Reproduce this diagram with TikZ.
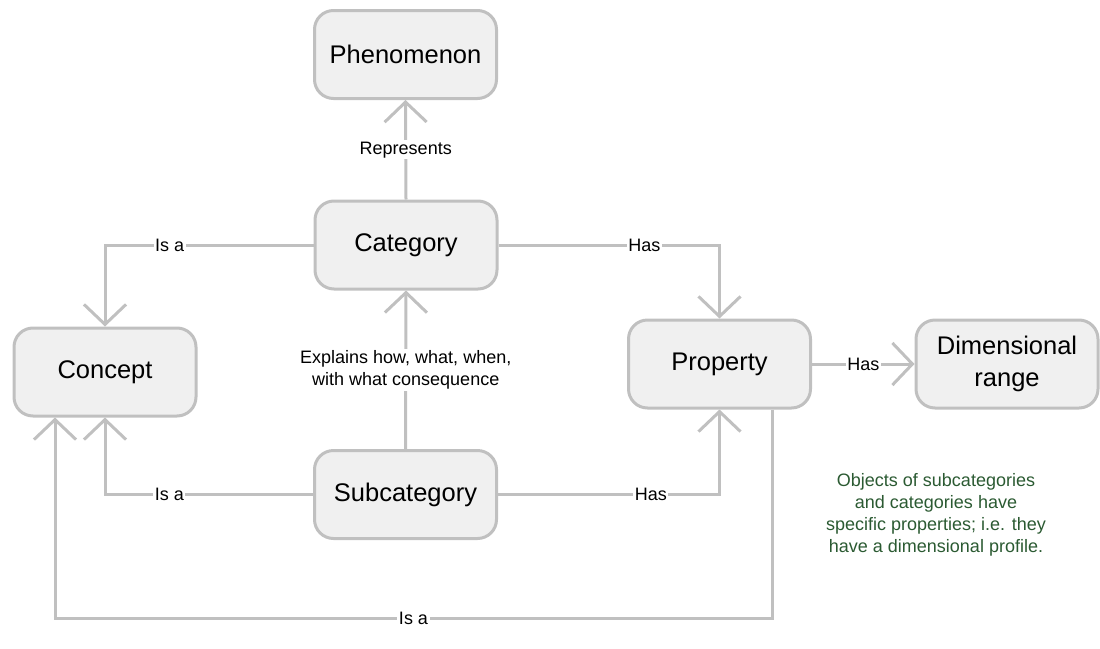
\documentclass[tikz,border=0pt]{standalone}
\usepackage{fontspec}
\setmainfont{Liberation Sans}
\usetikzlibrary{arrows.meta,calc}

\definecolor{boxline}{RGB}{192,192,192}
\definecolor{boxfill}{RGB}{240,240,240}
\definecolor{edgeline}{RGB}{192,192,192}
\definecolor{notegreen}{RGB}{43,90,50}

\tikzset{
  entity/.style={draw=boxline, fill=boxfill, line width=3pt, rounded corners=19pt,
    minimum width=182pt, minimum height=88pt, inner sep=0pt, align=center,
    font=\fontsize{25.5}{32}\selectfont},
  link/.style={draw=edgeline, line width=3pt,
    -{Straight Barb[length=20pt,width=42pt]}},
  lbl/.style={fill=white, inner sep=1.5pt, align=center,
    font=\fontsize{18}{22}\selectfont},
  note/.style={align=center, text=notegreen, font=\fontsize{18}{21.8}\selectfont}
}

\begin{document}
\begin{tikzpicture}[x=1pt,y=-1pt]
  \useasboundingbox (0,0) rectangle (1100,648);

  % entities
  \node[entity] (phen) at (405.5,54.5) {Phenomenon};
  \node[entity] (cat)  at (406,245)    {Category};
  \node[entity] (con)  at (105,372)    {Concept};
  \node[entity] (prop) at (719.5,364)  {Property};
  \node[entity] (dim)  at (1007,364)   {Dimensional\\range};
  \node[entity] (sub)  at (405.5,494.5) {Subcategory};

  % annotation
  \node[note] (remark) at (936,515) {Objects of subcategories\\and categories have\\specific properties; i.e. they\\have a dimensional profile.};

  % relations
  \draw[link] (cat.north) -- node[lbl] {Represents} (phen.south);
  \draw[link] (sub.north) -- node[lbl] {Explains how, what, when,\\with what consequence} (cat.south);
  \draw[link] (cat.west) -- node[lbl,pos=0.69] {Is a} (cat.west -| con.north) -- (con.north);
  \draw[link] (cat.east) -- node[lbl,pos=0.66] {Has} (cat.east -| prop.north) -- (prop.north);
  \draw[link] (sub.west) -- node[lbl,pos=0.69] {Is a} (sub.west -| con.south) -- (con.south);
  \draw[link] (sub.east) -- node[lbl,pos=0.69] {Has} (sub.east -| prop.south) -- (prop.south);
  \draw[link] (prop.east) -- node[lbl] {Has} (dim.west);

  % long loop from Property back to Concept
  \coordinate (loopstart) at ($(prop.south)+(52.5,0)$);
  \coordinate (loopend)   at ($(con.south)+(-50,0)$);
  \coordinate (loopbase)  at (0,618);
  \draw[link] (loopstart) -- (loopstart |- loopbase)
    -- node[lbl] {Is a} (loopend |- loopbase) -- (loopend);
\end{tikzpicture}
\end{document}
